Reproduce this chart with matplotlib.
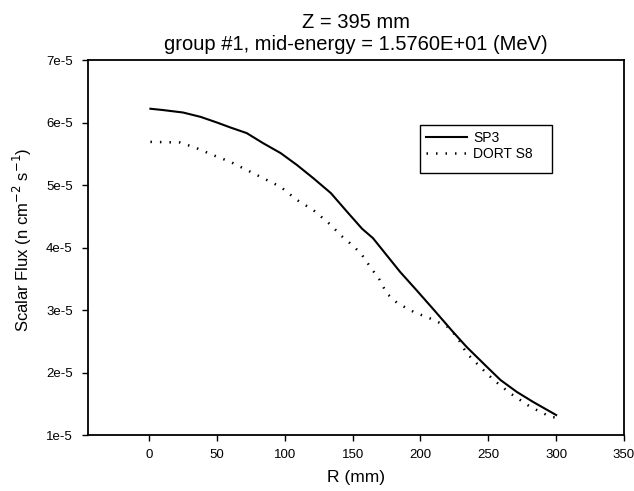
import numpy as np
import matplotlib.pyplot as plt
from matplotlib.patches import Rectangle

plt.rcParams['font.family'] = ['Liberation Sans', 'DejaVu Sans']
plt.rcParams['axes.unicode_minus'] = False

# values (flux in units of 1e-5)
r_sp3 = [1, 10, 25, 38, 50, 60, 72, 84, 97, 109, 121, 134, 146, 157, 165, 175, 185,
         197, 210, 224, 234, 249, 259, 271, 283, 300]
flux_sp3 = [6.22, 6.20, 6.16, 6.09, 6.00, 5.92, 5.83, 5.67, 5.51, 5.32, 5.11, 4.87,
            4.57, 4.30, 4.15, 3.88, 3.61, 3.32, 3.00, 2.65, 2.41, 2.09, 1.88, 1.69, 1.53, 1.32]

r_dort = [1, 23, 35, 47, 60, 72, 84, 97, 109, 121, 134, 141, 148, 156, 163, 170, 175,
          183, 195, 210, 220, 227, 234, 244, 254, 266, 281, 296, 300]
flux_dort = [5.69, 5.68, 5.59, 5.48, 5.37, 5.24, 5.11, 4.97, 4.76, 4.60, 4.36, 4.20,
             4.07, 3.91, 3.69, 3.48, 3.27, 3.11, 2.97, 2.84, 2.73, 2.57, 2.31, 2.09,
             1.88, 1.67, 1.45, 1.29, 1.28]

y_ticks = [1e-5, 2e-5, 3e-5, 4e-5, 5e-5, 6e-5, 7e-5]
y_labels = ['1e-5', '2e-5', '3e-5', '4e-5', '5e-5', '6e-5', '7e-5']
x_ticks = [0, 50, 100, 150, 200, 250, 300, 350]

fig = plt.figure(figsize=(6.34, 4.91), dpi=100)
ax = fig.add_axes([0.1388, 0.114, 0.8454, 0.7638])

ax.plot(r_sp3, np.array(flux_sp3) * 1e-5, color='black', lw=1.5, label='SP3')
ax.plot(r_dort, np.array(flux_dort) * 1e-5, color='black', lw=1.8,
        linestyle=(0, (0.6, 3.2)), label='DORT S8')

ax.set_xlim(-45, 350)
ax.set_ylim(1e-5, 7e-5)
ax.set_xticks(x_ticks)
ax.set_yticks(y_ticks)
ax.set_yticklabels(y_labels)
ax.tick_params(direction='out', length=4, width=1, labelsize=9.5)
ax.tick_params(axis='y', pad=7)
ax.tick_params(axis='x', pad=6)
for s in ax.spines.values():
    s.set_linewidth(1.3)

ax.set_xlabel('R (mm)', fontsize=12.5)
ax.xaxis.set_label_coords(0.5, -0.093)
ax.set_ylabel('Scalar Flux (n cm$^{-2}$ s$^{-1}$)', fontsize=12)
ax.yaxis.set_label_coords(-0.101, 0.52)
ax.set_title('Z = 395 mm\ngroup #1, mid-energy = 1.5760E+01 (MeV)', fontsize=14.5,
             linespacing=1.2, pad=7)

# legend box: drawn a bit larger than the entries, as in the original
ax.add_patch(Rectangle((0.619, 0.699), 0.246, 0.128, transform=ax.transAxes,
                       fill=False, edgecolor='black', lw=1))
ax.legend(loc='upper left', bbox_to_anchor=(0.63, 0.812), frameon=False,
          fontsize=10, handlelength=3.0, handletextpad=0.4, labelspacing=0.15,
          borderaxespad=0, borderpad=0)

fig.savefig('out.png', dpi=100)
